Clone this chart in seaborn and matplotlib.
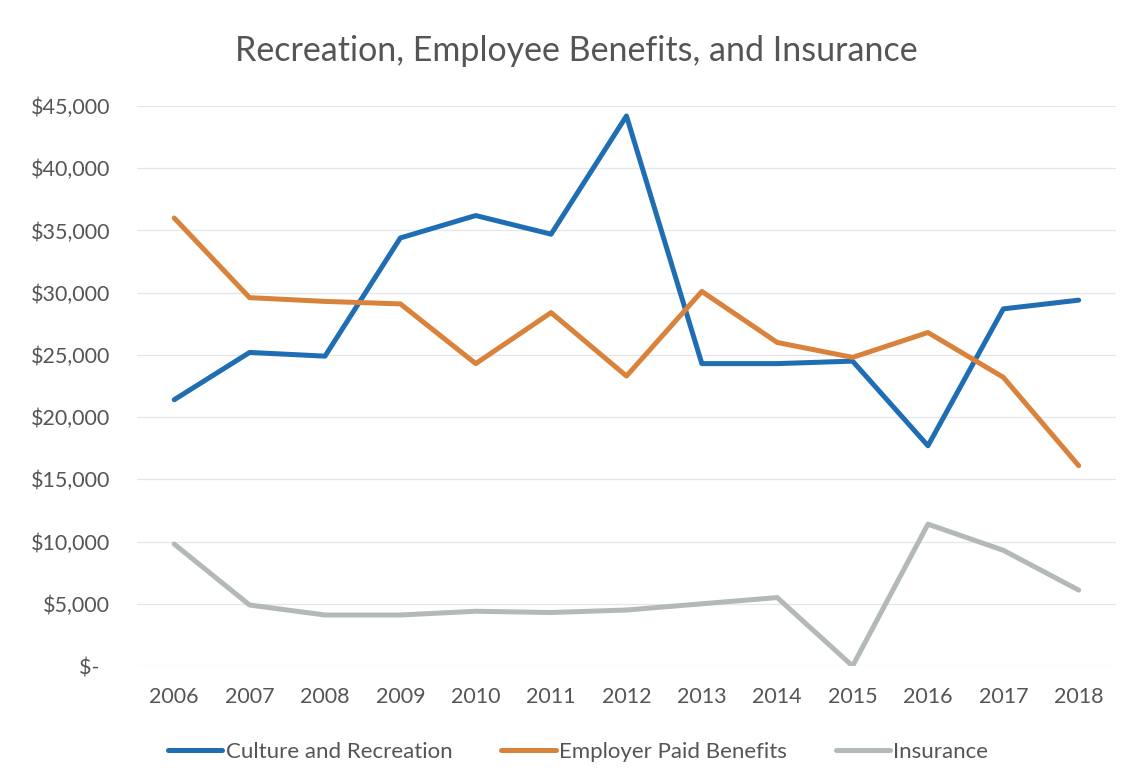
import matplotlib
matplotlib.use("Agg")
import matplotlib.pyplot as plt
import seaborn as sns
import pandas as pd
from matplotlib.ticker import FuncFormatter, MultipleLocator

years = list(range(2006, 2019))
culture = [21400, 25200, 24900, 34400, 36200, 34700, 44200, 24300, 24300, 24500, 17700, 28700, 29400]
benefits = [36000, 29600, 29300, 29100, 24300, 28400, 23300, 30100, 26000, 24800, 26800, 23200, 16100]
insurance = [9800, 4900, 4100, 4100, 4400, 4300, 4500, 5000, 5500, 0, 11400, 9300, 6100]
series_names = ["Culture and Recreation", "Employer Paid Benefits", "Insurance"]
colors = ["#1f6db3", "#d9823b", "#b3b8b8"]

df = pd.DataFrame({
    "Year": years * 3,
    "Value": culture + benefits + insurance,
    "Series": [series_names[0]] * 13 + [series_names[1]] * 13 + [series_names[2]] * 13,
})

sns.set_theme(style="white")
plt.rcParams["font.family"] = ["Lato", "DejaVu Sans"]
text_color = "#555555"

fig = plt.figure(figsize=(11.38, 7.83), dpi=100)
ax = fig.add_axes([0.120, 0.1494, 0.861, 0.7152])

sns.lineplot(data=df, x="Year", y="Value", hue="Series", palette=colors,
             linewidth=3.6, ax=ax, legend=True)

ax.set_xlim(2005.5, 2018.5)
ax.set_ylim(0, 45000)
ax.yaxis.set_major_locator(MultipleLocator(5000))
ax.set_xticks(years)
ax.set_xticklabels([str(y) for y in years])

def fmt(v, pos):
    if v == 0:
        return "$-  "
    return "${:,.0f}".format(v)

ax.yaxis.set_major_formatter(FuncFormatter(fmt))
ax.grid(axis="y", color="#e6e6e6", linewidth=0.9)
ax.grid(axis="x", visible=False)
for s in ax.spines.values():
    s.set_visible(False)
ax.tick_params(axis="y", length=0, pad=19, labelsize=15.5, labelcolor=text_color)
ax.tick_params(axis="x", length=0, pad=15, labelsize=15.5, labelcolor=text_color)
ax.set_xlabel("")
ax.set_ylabel("")

fig.suptitle("Recreation, Employee Benefits, and Insurance", x=0.506, y=0.955,
             fontsize=24.5, color=text_color)

handles, labels = ax.get_legend_handles_labels()
ax.legend(handles, labels, loc="center", bbox_to_anchor=(0.508, 0.040),
          bbox_transform=fig.transFigure, ncol=3, frameon=False,
          fontsize=16, labelcolor=text_color, handlelength=2.45,
          handletextpad=0.15, columnspacing=2.2)

fig.savefig("out.png", dpi=100)
